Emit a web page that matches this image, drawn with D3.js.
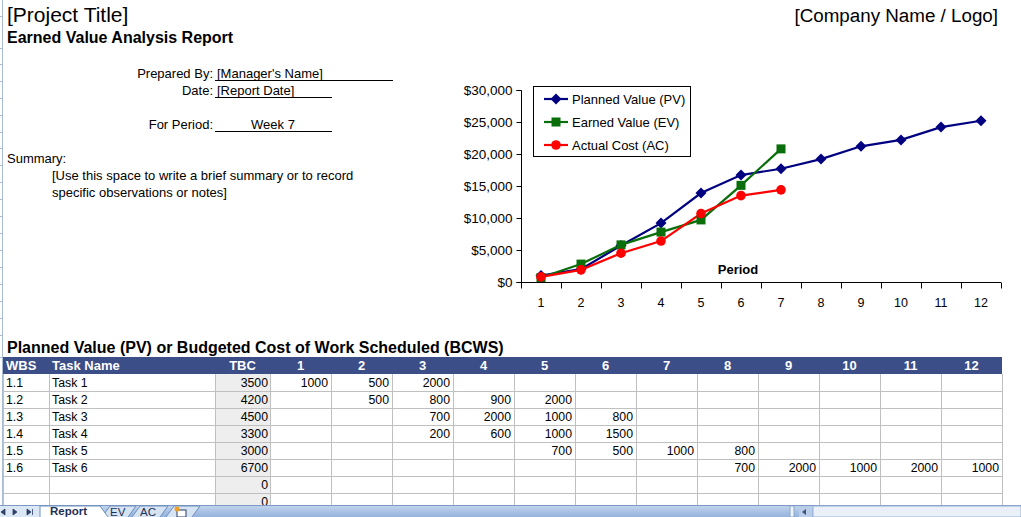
<!DOCTYPE html>
<html><head><meta charset="utf-8">
<script src="https://cdn.jsdelivr.net/npm/d3@7"></script>
<style>
html,body{margin:0;padding:0;background:#fff;overflow:hidden}
svg{display:block;font-family:"Liberation Sans",Arial,sans-serif}
</style></head><body>
<svg id="c" width="1021" height="517"></svg>
<script>
// ---------- data ----------
const periods = [1,2,3,4,5,6,7,8,9,10,11,12];
const pvCumulative = [1000,2000,5700,9200,13900,16700,17700,19200,21200,22200,24200,25200];
const evCumulative = [700,2800,5800,7800,9700,15100,20800];
const acCumulative = [800,1900,4500,6400,10700,13500,14400];
const yTicks = [0,5000,10000,15000,20000,25000,30000];
const seriesNames = ["Planned Value (PV)","Earned Value (EV)","Actual Cost (AC)"];
const wbs = ["1.1","1.2","1.3","1.4","1.5","1.6","",""];
const taskNames = ["Task 1","Task 2","Task 3","Task 4","Task 5","Task 6","",""];
const tbc = [3500,4200,4500,3300,3000,6700,0,0];
const pvTask1 = [1000,500,2000,null,null,null,null,null,null,null,null,null];
const pvTask2 = [null,500,800,900,2000,null,null,null,null,null,null,null];
const pvTask3 = [null,null,700,2000,1000,800,null,null,null,null,null,null];
const pvTask4 = [null,null,200,600,1000,1500,null,null,null,null,null,null];
const pvTask5 = [null,null,null,null,700,500,1000,800,null,null,null,null];
const pvTask6 = [null,null,null,null,null,null,null,700,2000,1000,2000,1000];
const pvEmpty = periods.map(()=>null);
const pvTable = [pvTask1,pvTask2,pvTask3,pvTask4,pvTask5,pvTask6,pvEmpty,pvEmpty];
const sheetTabs = ["Report","EV","AC"];

// ---------- setup ----------
const svg = d3.select("#c");
const FONT = '"Liberation Sans",Arial,sans-serif';

// left sheet edge with row ticks
svg.append("line").attr("x1",2.5).attr("x2",2.5).attr("y1",0).attr("y2",505)
  .attr("stroke","#a9bcd3").attr("stroke-width",1);
[16,48,64,81,98,115,132,148,165,182,199,216,233,250,267,284,301,318,335,357].forEach(y=>{
  svg.append("line").attr("x1",0).attr("x2",2.5).attr("y1",y+0.5).attr("y2",y+0.5).attr("stroke","#a9bcd3");
});

// ---------- header texts ----------
const hdr = svg.append("g").attr("fill","#000");
hdr.append("text").attr("x",7).attr("y",22).attr("font-size",21).text("[Project Title]");
hdr.append("text").attr("x",998).attr("y",22).attr("font-size",18.8).attr("text-anchor","end").text("[Company Name / Logo]");
hdr.append("text").attr("x",7).attr("y",43).attr("font-size",16).attr("font-weight","bold").text("Earned Value Analysis Report");
hdr.append("text").attr("x",213).attr("y",78).attr("font-size",13).attr("text-anchor","end").text("Prepared By:");
hdr.append("text").attr("x",217).attr("y",78).attr("font-size",13).text("[Manager's Name]");
hdr.append("line").attr("x1",215).attr("x2",393).attr("y1",80.5).attr("y2",80.5).attr("stroke","#000");
hdr.append("text").attr("x",213).attr("y",95).attr("font-size",13).attr("text-anchor","end").text("Date:");
hdr.append("text").attr("x",217).attr("y",95).attr("font-size",13).text("[Report Date]");
hdr.append("line").attr("x1",215).attr("x2",332).attr("y1",97.5).attr("y2",97.5).attr("stroke","#000");
hdr.append("text").attr("x",213).attr("y",129).attr("font-size",13).attr("text-anchor","end").text("For Period:");
hdr.append("text").attr("x",273).attr("y",129).attr("font-size",13).attr("text-anchor","middle").text("Week 7");
hdr.append("line").attr("x1",215).attr("x2",332).attr("y1",131.5).attr("y2",131.5).attr("stroke","#000");
hdr.append("text").attr("x",7).attr("y",163).attr("font-size",13).text("Summary:");
hdr.append("text").attr("x",52).attr("y",180).attr("font-size",13).text("[Use this space to write a brief summary or to record");
hdr.append("text").attr("x",52).attr("y",197).attr("font-size",13).text("specific observations or notes]");

// ---------- chart ----------
const x = d3.scaleBand().domain(periods).range([521,1001]);
const y = d3.scaleLinear().domain([0,30000]).range([282,90]);
const cx = d => x(d) + x.bandwidth()/2;

const yAxis = svg.append("g").attr("transform","translate(521.5,0)")
  .call(d3.axisLeft(y).tickValues(yTicks).tickFormat(d3.format("$,")).tickSize(5).tickPadding(4));
yAxis.select(".domain").attr("stroke","#000").attr("d","M-5,90.5H0V282.5H-5");
yAxis.selectAll(".tick line").attr("stroke","#000");
yAxis.selectAll("text").attr("font-family",FONT).attr("font-size",13.5).attr("fill","#000");

const xAxis = svg.append("g").attr("transform","translate(0,282.5)")
  .call(d3.axisBottom(x).tickSize(0).tickPadding(15.5));
xAxis.select(".domain").attr("stroke","#000").attr("d","M521,0H1001");
xAxis.selectAll("text").attr("font-family",FONT).attr("font-size",12.5).attr("fill","#000");
xAxis.selectAll(".sep").data(periods.concat([null])).join("line").attr("class","sep")
  .attr("x1",(d,i)=> Math.round(521 + i*x.bandwidth())+0.5)
  .attr("x2",(d,i)=> Math.round(521 + i*x.bandwidth())+0.5)
  .attr("y1",0).attr("y2",6).attr("stroke","#000");

svg.append("text").attr("x",738).attr("y",274).attr("text-anchor","middle")
  .attr("font-size",13).attr("font-weight","bold").text("Period");

const series = [
  {name:seriesNames[0], values:pvCumulative, color:"#000080", marker:"diamond"},
  {name:seriesNames[1], values:evCumulative, color:"#0a6e0a", marker:"square"},
  {name:seriesNames[2], values:acCumulative, color:"#ff0000", marker:"circle"}
];
const line = d3.line().x((d,i)=>cx(periods[i])).y(d=>y(d));
function drawMarker(g, type, color){
  if(type==="diamond") g.append("path").attr("d","M0,-5.5L5.5,0L0,5.5L-5.5,0Z").attr("fill",color);
  else if(type==="square") g.append("rect").attr("x",-4.5).attr("y",-4.5).attr("width",9).attr("height",9).attr("fill",color);
  else g.append("circle").attr("r",4.8).attr("fill",color);
}
series.forEach(s=>{
  svg.append("path").datum(s.values).attr("d",line).attr("fill","none")
    .attr("stroke",s.color).attr("stroke-width",2.2);
});
series.forEach(s=>{
  s.values.forEach((v,i)=>{
    const g = svg.append("g").attr("transform",`translate(${cx(periods[i])},${y(v)})`);
    drawMarker(g,s.marker,s.color);
  });
});

// legend
const lg = svg.append("g");
lg.append("rect").attr("x",533.5).attr("y",86.5).attr("width",157).attr("height",70)
  .attr("fill","#fff").attr("stroke","#000");
series.forEach((s,i)=>{
  const yy = 99 + i*23;
  lg.append("line").attr("x1",544).attr("x2",568).attr("y1",yy).attr("y2",yy).attr("stroke",s.color).attr("stroke-width",2.2);
  const g = lg.append("g").attr("transform",`translate(556,${yy})`);
  drawMarker(g,s.marker,s.color);
  lg.append("text").attr("x",572).attr("y",yy+4.5).attr("font-size",13).text(s.name);
});

// ---------- table ----------
svg.append("text").attr("x",7).attr("y",353).attr("font-size",16).attr("font-weight","bold")
  .text("Planned Value (PV) or Budgeted Cost of Work Scheduled (BCWS)");

const colX = [3,49,215,270];
for(let i=1;i<=12;i++) colX.push(270 + i*61);
const headY = 357, headH = 17, rowH = 17;
const tbl = svg.append("g");
tbl.append("rect").attr("x",215).attr("y",headY+headH).attr("width",55).attr("height",rowH*8).attr("fill","#eeeeee");
tbl.append("rect").attr("x",3).attr("y",headY).attr("width",colX[colX.length-1]-3).attr("height",headH).attr("fill","#3b4e87");
const headLabels = ["WBS","Task Name","TBC"].concat(periods.map(String));
headLabels.forEach((t,i)=>{
  const tx = i<2 ? colX[i]+3 : (colX[i]+colX[i+1])/2;
  tbl.append("text").attr("x",tx).attr("y",headY+13).attr("font-size",13).attr("font-weight","bold")
    .attr("fill","#fff").attr("text-anchor", i<2?"start":"middle").text(t);
});
const bodyTop = headY+headH, bodyBot = bodyTop + rowH*8;
for(let r=1;r<=8;r++){
  tbl.append("line").attr("x1",3).attr("x2",colX[colX.length-1]).attr("y1",bodyTop+r*rowH+0.5).attr("y2",bodyTop+r*rowH+0.5)
    .attr("stroke","#c0c0c0");
}
colX.forEach(cxv=>{
  tbl.append("line").attr("x1",cxv+0.5).attr("x2",cxv+0.5).attr("y1",bodyTop).attr("y2",bodyBot).attr("stroke","#c0c0c0");
});
wbs.forEach((w,r)=>{
  const by = bodyTop + r*rowH + 13;
  tbl.append("text").attr("x",6).attr("y",by).attr("font-size",12.3).text(w);
  tbl.append("text").attr("x",52).attr("y",by).attr("font-size",12.3).text(taskNames[r]);
  tbl.append("text").attr("x",268).attr("y",by).attr("font-size",12.3).attr("text-anchor","end").text(tbc[r]);
  pvTable[r].forEach((v,c)=>{
    if(v==null) return;
    tbl.append("text").attr("x",colX[c+4]-3).attr("y",by).attr("font-size",12.3).attr("text-anchor","end").text(v);
  });
});

// ---------- sheet tab bar ----------
const tb = svg.append("g");
const grad = svg.append("defs").append("linearGradient").attr("id","tabg").attr("x1",0).attr("x2",0).attr("y1",0).attr("y2",1);
grad.append("stop").attr("offset","0").attr("stop-color","#c3d6ee");
grad.append("stop").attr("offset","1").attr("stop-color","#94b2db");
tb.append("rect").attr("x",0).attr("y",505).attr("width",1021).attr("height",12).attr("fill","url(#tabg)");
tb.append("line").attr("x1",0).attr("x2",1021).attr("y1",505.5).attr("y2",505.5).attr("stroke","#7b9ac6");
tb.append("rect").attr("x",0).attr("y",506).attr("width",40).attr("height",11).attr("fill","#dce7f5");
["M1,512l4,-3v6z","M13,509l4,3l-4,3z","M27,509l4,3l-4,3z","M32.5,509v6"].forEach(d=>{
  tb.append("path").attr("d",d).attr("fill","#2b3f66").attr("stroke","#2b3f66").attr("stroke-width",0.8);
});
const tabs = [{x:102,w:34,t:sheetTabs[1]},{x:132,w:36,t:sheetTabs[2]},{x:166,w:34,t:""}];
tabs.forEach(tt=>{
  tb.append("path").attr("d",`M${tt.x},517L${tt.x+8},506H${tt.x+tt.w}L${tt.x+tt.w-8},517`)
    .attr("fill","#d6e3f3").attr("stroke","#6f8fbe");
  if(tt.t) tb.append("text").attr("x",tt.x+8).attr("y",516).attr("font-size",11.5).attr("fill","#1f3057").text(tt.t);
});
tb.append("rect").attr("x",177).attr("y",510).attr("width",9).attr("height",7).attr("fill","#fff").attr("stroke","#2b3f66");
tb.append("circle").attr("cx",177).attr("cy",509).attr("r",2.5).attr("fill","#f0a020");
tb.append("path").attr("d","M40,517V506H100L108,517").attr("fill","#fff").attr("stroke","#6f8fbe");
tb.append("text").attr("x",50).attr("y",514.5).attr("font-size",11.5).attr("font-weight","bold").attr("fill","#1f3057").text(sheetTabs[0]);
tb.append("rect").attr("x",790).attr("y",506).attr("width",4).attr("height",11).attr("fill","#eef3fa").attr("stroke","#8aa5cc");
tb.append("rect").attr("x",799).attr("y",506).attr("width",13).attr("height",11).attr("fill","#b9cde8");
tb.append("path").attr("d","M802,512l4,-3v6z").attr("fill","#3b527d");
tb.append("rect").attr("x",813).attr("y",506).attr("width",208).attr("height",11).attr("fill","#eaf0f8").attr("stroke","#9ab2d4");
</script>
</body></html>
